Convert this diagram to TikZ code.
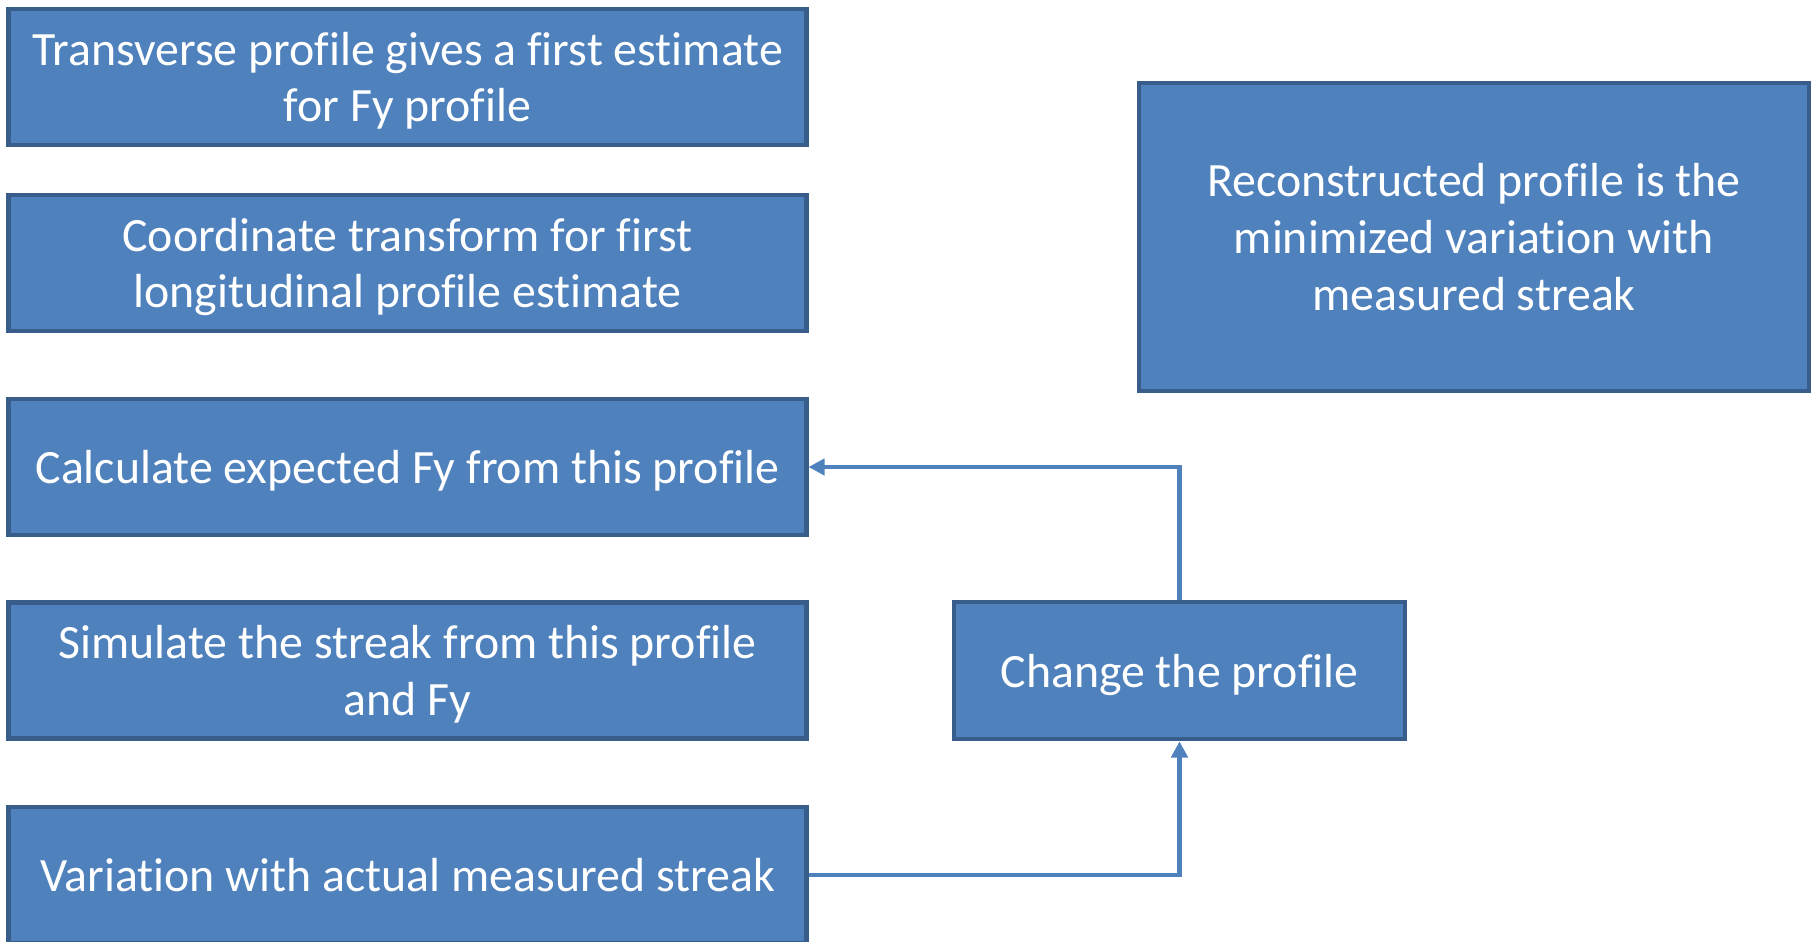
\documentclass[tikz,border=0pt]{standalone}
\usepackage{fontspec}
\setmainfont[Ligatures=NoCommon]{Carlito}
\usetikzlibrary{arrows.meta}
\definecolor{boxfill}{RGB}{79,129,189}
\definecolor{boxline}{RGB}{56,93,138}

\begin{document}
\begin{tikzpicture}[x=0.01cm,y=-0.01cm,
    stepbox/.style={draw=boxline,fill=boxfill,line width=1.3pt,text=white,align=center,inner sep=0pt,text depth=0pt,
        minimum width=7.97cm,minimum height=1.36cm,font=\fontsize{13.6}{16.1}\selectfont},
    link/.style={draw=boxfill,line width=1.2pt,-{Triangle[length=4.6pt,width=4.6pt]}}]
    \useasboundingbox (0,0) rectangle (1814,942);
    \coordinate (t) at (407.5,77);
    \coordinate (c) at (407.5,263);
    \coordinate (e) at (407.5,467);
    \coordinate (s) at (407.5,670.5);
    \coordinate (v) at (407.5,875);
    \node[stepbox] (transverse) at (t) {Transverse profile gives a first estimate\\for Fy profile};
    \node[stepbox] (coordtrans) at (c) {Coordinate transform for first\\longitudinal profile estimate};
    \node[stepbox] (calcfy) at (e) {Calculate expected Fy from this profile};
    \node[stepbox] (simulate) at (s) {Simulate the streak from this profile\\and Fy};
    \node[stepbox] (variation) at (v) {Variation with actual measured streak};

    \node[stepbox,minimum width=4.51cm,minimum height=1.37cm] (change) at (1179.5,670.5) {Change the profile};
    \node[stepbox,minimum width=6.70cm,minimum height=3.08cm] (recon) at (1474,237) {Reconstructed profile is the\\minimized variation with\\measured streak};

    \draw[link] (change.north) |- (calcfy.east);
    \draw[link] (variation.east) -| (change.south);
\end{tikzpicture}
\end{document}
